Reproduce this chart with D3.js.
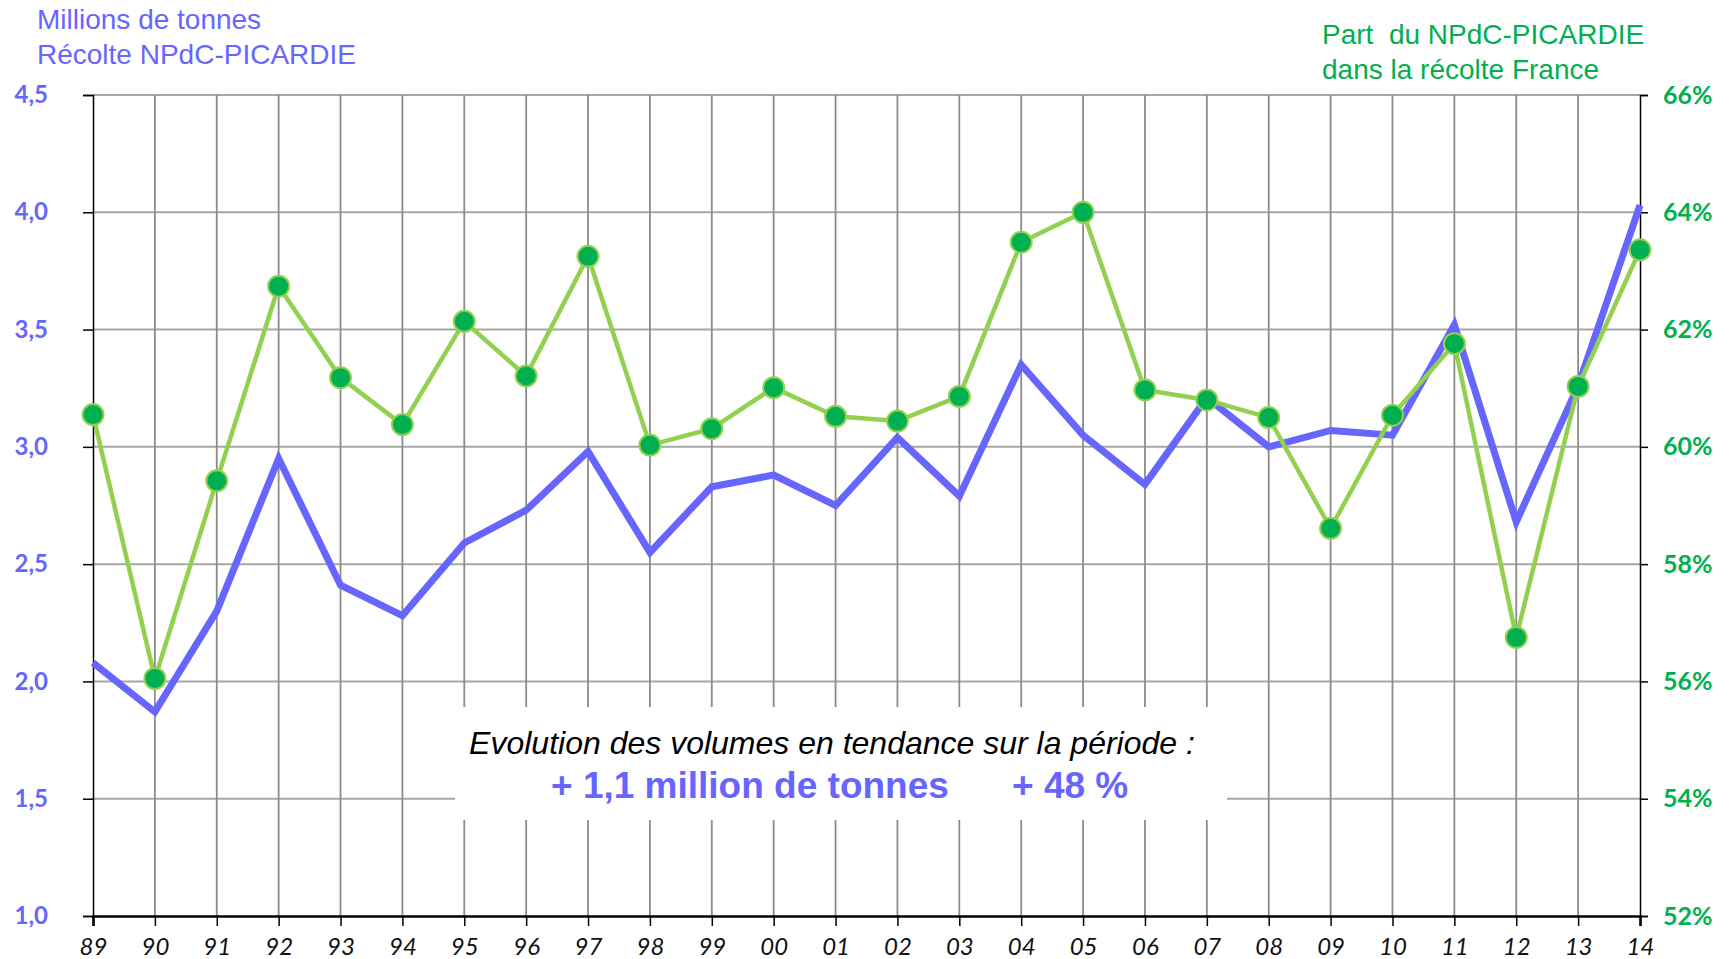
<!DOCTYPE html>
<html>
<head>
<meta charset="utf-8">
<script src="https://cdn.jsdelivr.net/npm/d3@7"></script>
<style>
  body { margin: 0; background: #fff; }
  .axis path, .axis line { stroke: #000; }
  .axis text { font-family: Lato, "Open Sans", sans-serif; }
</style>
</head>
<body>
<script>
var years = ['89','90','91','92','93','94','95','96','97','98','99','00','01','02','03','04','05','06','07','08','09','10','11','12','13','14'];
var volumes = [2.08,1.87,2.30,2.95,2.41,2.28,2.59,2.73,2.98,2.55,2.83,2.88,2.75,3.04,2.79,3.35,3.05,2.84,3.21,3.00,3.07,3.05,3.52,2.68,3.26,4.03];
var parts = [60.55,56.05,59.42,62.74,61.18,60.38,62.14,61.21,63.25,60.03,60.31,61.01,60.52,60.44,60.86,63.49,64.00,60.97,60.80,60.50,58.61,60.54,61.76,56.75,61.03,63.36];
var leftTicks = [1,1.5,2,2.5,3,3.5,4,4.5];
var rightTicks = [52,54,56,58,60,62,64,66];

var W = 1733, H = 959;
var margin = { top: 95, right: 93, bottom: 43, left: 93 };
var width = W - margin.left - margin.right;
var height = H - margin.top - margin.bottom;

var blue = '#6666ff', green = '#00b050', lightGreen = '#92d050';

var svg = d3.select('body').append('svg')
	.attr('width', W)
	.attr('height', H);

var g = svg.append('g')
	.attr('transform', 'translate(' + margin.left + ',' + margin.top + ')');

var x = d3.scalePoint().domain(years).range([0, width]);
var yL = d3.scaleLinear().domain([1, 4.5]).range([height, 0]);
var yR = d3.scaleLinear().domain([52, 66]).range([height, 0]);

var fr = d3.formatLocale({ decimal: ',', thousands: ' ', grouping: [3], currency: ['', ' €'] });

// grid
g.append('g').selectAll('line').data(leftTicks.slice(1)).join('line')
	.attr('x1', 0).attr('x2', width)
	.attr('y1', function(d) { return yL(d); }).attr('y2', function(d) { return yL(d); })
	.attr('stroke', '#a6a6a6').attr('stroke-width', 2);

g.append('g').selectAll('line').data(years.slice(1, -1)).join('line')
	.attr('x1', function(d) { return x(d); }).attr('x2', function(d) { return x(d); })
	.attr('y1', 0).attr('y2', height)
	.attr('stroke', '#8c8c8c').attr('stroke-width', 1.8);

// white box behind the annotation
g.append('rect')
	.attr('x', 455 - margin.left).attr('y', 707 - margin.top)
	.attr('width', 772).attr('height', 113)
	.attr('fill', '#fff');

// axes
g.append('g')
	.attr('class', 'axis axis--x')
	.attr('transform', 'translate(0,' + height + ')')
	.call(d3.axisBottom(x).tickSize(10).tickPadding(12))
	.call(function(s) {
		s.select('.domain').attr('stroke', '#555').attr('stroke-width', 2.5);
		s.selectAll('line').attr('stroke-width', 1.5);
		s.selectAll('text').attr('font-size', 24).attr('font-style', 'italic').attr('fill', '#111');
	});

g.append('g')
	.attr('class', 'axis axis--yl')
	.call(d3.axisLeft(yL).tickValues(leftTicks).tickSize(10).tickPadding(35).tickFormat(fr.format('.1f')))
	.call(function(s) {
		s.select('.domain').attr('stroke-width', 1.5);
		s.selectAll('line').attr('stroke-width', 1.5);
		s.selectAll('text').attr('font-size', 24).attr('font-weight', 'bold').attr('fill', blue);
	});

g.append('g')
	.attr('class', 'axis axis--yr')
	.attr('transform', 'translate(' + width + ',0)')
	.call(d3.axisRight(yR).tickValues(rightTicks).tickSize(8).tickPadding(15).tickFormat(function(d) { return d + '%'; }))
	.call(function(s) {
		s.select('.domain').attr('stroke-width', 1.5);
		s.selectAll('line').attr('stroke-width', 1.5);
		s.selectAll('text').attr('font-size', 25).attr('font-weight', 'bold').attr('fill', green);
	});

// series
var volLine = d3.line()
	.x(function(d, i) { return x(years[i]); })
	.y(function(d) { return yL(d); });

var partLine = d3.line()
	.x(function(d, i) { return x(years[i]); })
	.y(function(d) { return yR(d); });

g.append('path')
	.datum(volumes)
	.attr('fill', 'none')
	.attr('stroke', blue)
	.attr('stroke-width', 7)
	.attr('stroke-linejoin', 'miter')
	.attr('d', volLine);

g.append('path')
	.datum(parts)
	.attr('fill', 'none')
	.attr('stroke', lightGreen)
	.attr('stroke-width', 4.5)
	.attr('d', partLine);

g.append('g').selectAll('circle').data(parts).join('circle')
	.attr('cx', function(d, i) { return x(years[i]); })
	.attr('cy', function(d) { return yR(d); })
	.attr('r', 10.5)
	.attr('fill', green)
	.attr('stroke', lightGreen)
	.attr('stroke-width', 2);

// titles
var tl = svg.append('text')
	.attr('font-family', '"Liberation Sans", Arial, sans-serif')
	.attr('font-size', 28)
	.attr('fill', blue);
tl.append('tspan').attr('x', 37).attr('y', 29).text('Millions de tonnes');
tl.append('tspan').attr('x', 37).attr('y', 64).text('Récolte NPdC-PICARDIE');

var tr = svg.append('text')
	.attr('font-family', '"Liberation Sans", Arial, sans-serif')
	.attr('font-size', 28)
	.attr('fill', green)
	.attr('xml:space', 'preserve')
	.style('white-space', 'pre');
tr.append('tspan').attr('x', 1322).attr('y', 44).text('Part  du NPdC-PICARDIE');
tr.append('tspan').attr('x', 1322).attr('y', 79).text('dans la récolte France');

// annotation
svg.append('text')
	.attr('x', 832).attr('y', 754)
	.attr('text-anchor', 'middle')
	.attr('font-family', '"Liberation Sans", Arial, sans-serif')
	.attr('font-size', 32)
	.attr('font-style', 'italic')
	.attr('fill', '#000')
	.text('Evolution des volumes en tendance sur la période :');

svg.append('text')
	.attr('x', 551).attr('y', 798)
	.attr('font-family', '"Liberation Sans", Arial, sans-serif')
	.attr('font-size', 37)
	.attr('font-weight', 'bold')
	.attr('fill', blue)
	.text('+ 1,1 million de tonnes');

svg.append('text')
	.attr('x', 1012).attr('y', 798)
	.attr('font-family', '"Liberation Sans", Arial, sans-serif')
	.attr('font-size', 37)
	.attr('font-weight', 'bold')
	.attr('fill', blue)
	.text('+ 48 %');
</script>
</body>
</html>
